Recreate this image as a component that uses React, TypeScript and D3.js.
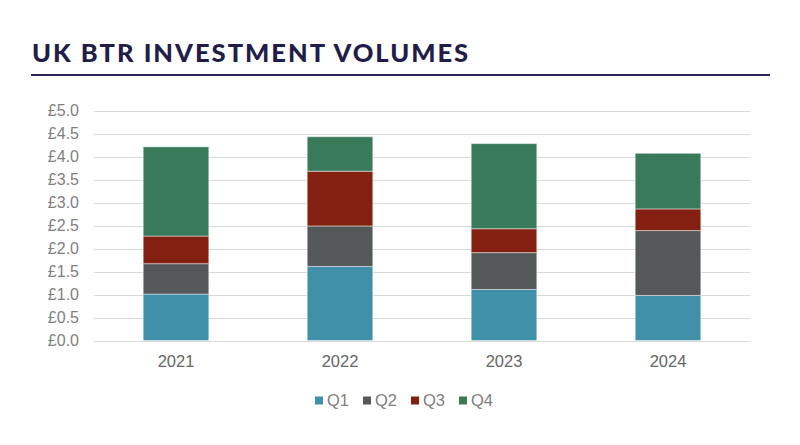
import React from "react";
import * as d3 from "d3";

const years = ["2021", "2022", "2023", "2024"];
const quarters = ["Q1", "Q2", "Q3", "Q4"];
const q1 = [1.01, 1.61, 1.11, 0.98];
const q2 = [0.66, 0.88, 0.8, 1.41];
const q3 = [0.6, 1.19, 0.52, 0.47];
const q4 = [1.94, 0.75, 1.85, 1.21];
const yTicks = [0, 0.5, 1, 1.5, 2, 2.5, 3, 3.5, 4, 4.5, 5];
const colors = ["#4090a9", "#545858", "#832011", "#387a5a"];

const W = 800;
const H = 445;
const FONT = "'Liberation Sans', Arial, Helvetica, sans-serif";

export default function App() {
  const series = [q1, q2, q3, q4];
  const rows = years.map((y, i) => {
    const r: any = { year: y };
    quarters.forEach((q, k) => (r[q] = series[k][i]));
    return r;
  });
  const stacked = d3.stack().keys(quarters)(rows);
  const x = d3.scaleBand().domain(years).range([94, 750]).paddingInner(0.6).paddingOuter(0.3);
  const y = d3.scaleLinear().domain([0, 5]).range([340.5, 110.5]);
  const legendX = d3.scaleLinear().domain([0, 3]).range([315, 459]);

  return (
    <svg width={W} height={H} style={{ position: "absolute", left: 0, top: 0, background: "#fff" }}>
      <text x={32} y={61.5} fill="#221d48" fontFamily="Lato" fontWeight={900} fontSize={25.5} letterSpacing={2}>
        UK BTR INVESTMENT VOLUMES
      </text>
      <line x1={31} x2={770} y1={75} y2={75} stroke="#2b2650" strokeWidth={2} />
      {yTicks.map((t) => (
        <g key={t}>
          <line x1={94} x2={750} y1={Math.round(y(t)) + 0.5} y2={Math.round(y(t)) + 0.5} stroke="#d9d9d9" strokeWidth={1} />
          <text x={79} y={y(t) + 5.5} textAnchor="end" fill="#808080" fontFamily={FONT} fontSize={16}>
            {"£" + t.toFixed(1)}
          </text>
        </g>
      ))}
      {stacked.map((s, k) => (
        <g key={s.key} fill={colors[k]}>
          {s.map((d: any, i) => (
            <rect
              key={i}
              x={x(d.data.year)}
              y={y(d[1])}
              width={x.bandwidth()}
              height={y(d[0]) - y(d[1])}
              stroke="rgba(255,255,255,0.45)"
              strokeWidth={1}
            />
          ))}
        </g>
      ))}
      {years.map((yr) => (
        <text key={yr} x={(x(yr) as number) + x.bandwidth() / 2} y={366.5} textAnchor="middle" fill="#666666" fontFamily={FONT} fontSize={16.5}>
          {yr}
        </text>
      ))}
      {quarters.map((q, k) => (
        <g key={q}>
          <rect x={legendX(k)} y={396.5} width={8} height={8} fill={colors[k]} />
          <text x={legendX(k) + 12} y={406} fill="#808080" fontFamily={FONT} fontSize={16.5}>
            {q}
          </text>
        </g>
      ))}
    </svg>
  );
}
